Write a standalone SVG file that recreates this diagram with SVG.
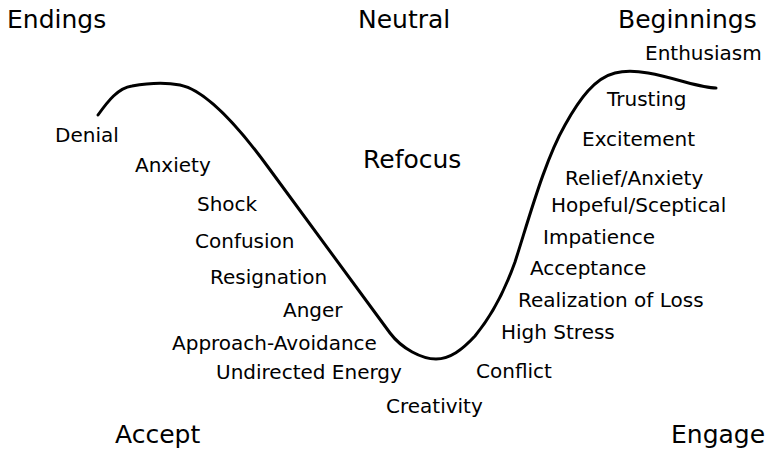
<svg xmlns="http://www.w3.org/2000/svg" width="766" height="453" viewBox="0 0 766 453">
<style>
text{font-family:"DejaVu Sans","Liberation Sans",sans-serif;fill:#000}
.h{font-size:25px}
.l{font-size:20px}
.curve{fill:none;stroke:#000;stroke-width:3;stroke-linecap:round;stroke-linejoin:round}
</style>
<rect width="766" height="453" fill="#fff"/>
<g id="curve">
<path class="curve" d="M98,115 C108,101 118,88 132,86 C148,83 165,82 180,85 C205,90 238,126 268,167 L390,333 C402,349 422,359 436,359 C450,359 462,350 475,336 C490,318 505,290 515,262 C530,215 545,160 565,125 C580,98 595,78 615,73 C635,68 660,75 685,82 C700,86 708,88 716,88"/>
</g>
<g id="headers">
<text class="h" x="7" y="28">Endings</text>
<text class="h" x="358" y="28">Neutral</text>
<text class="h" x="618" y="28">Beginnings</text>
<text class="h" x="363" y="168">Refocus</text>
<text class="h" x="115" y="443">Accept</text>
<text class="h" x="671" y="443">Engage</text>
</g>
<g id="left-labels">
<text class="l" x="55" y="142">Denial</text>
<text class="l" x="135" y="172">Anxiety</text>
<text class="l" x="197" y="211">Shock</text>
<text class="l" x="195" y="248">Confusion</text>
<text class="l" x="210" y="284">Resignation</text>
<text class="l" x="283" y="317">Anger</text>
<text class="l" x="172" y="350">Approach-Avoidance</text>
<text class="l" x="216" y="379">Undirected Energy</text>
<text class="l" x="386" y="413">Creativity</text>
</g>
<g id="right-labels">
<text class="l" x="476" y="378">Conflict</text>
<text class="l" x="501" y="339">High Stress</text>
<text class="l" x="518" y="307">Realization of Loss</text>
<text class="l" x="530" y="275">Acceptance</text>
<text class="l" x="543" y="244">Impatience</text>
<text class="l" x="551" y="212">Hopeful/Sceptical</text>
<text class="l" x="565" y="185">Relief/Anxiety</text>
<text class="l" x="582" y="146">Excitement</text>
<text class="l" x="607" y="106">Trusting</text>
<text class="l" x="645" y="60">Enthusiasm</text>
</g>
</svg>
